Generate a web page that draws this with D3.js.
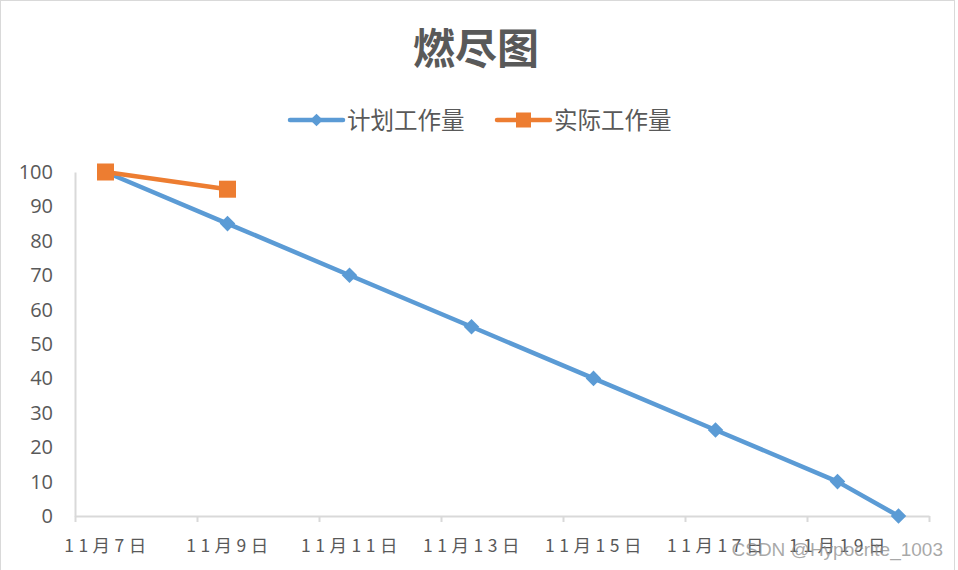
<!DOCTYPE html>
<html>
<head>
<meta charset="utf-8">
<script src="https://cdn.jsdelivr.net/npm/d3@7"></script>
<style>
  body { margin: 0; background: #fff; }
  svg { display: block; font-family: "Noto Sans CJK SC", sans-serif; }
</style>
</head>
<body>
<div id="chart"></div>
<script>
const planDates = ["2022-11-07", "2022-11-09", "2022-11-11", "2022-11-13", "2022-11-15", "2022-11-17", "2022-11-19", "2022-11-20"];
const planValues = [100, 85, 70, 55, 40, 25, 10, 0];
const actualDates = ["2022-11-07", "2022-11-09"];
const actualValues = [100, 95];
const tickDates = ["2022-11-07", "2022-11-09", "2022-11-11", "2022-11-13", "2022-11-15", "2022-11-17", "2022-11-19", "2022-11-21"];
const tickLabels = ["11月7日", "11月9日", "11月11日", "11月13日", "11月15日", "11月17日", "11月19日"];
const yTicks = [0, 10, 20, 30, 40, 50, 60, 70, 80, 90, 100];

const width = 958;
const height = 570;
const blue = "#5B9BD5";
const orange = "#ED7D31";
const textColor = "#595959";
const axisColor = "#D9D9D9";

const parse = d3.timeParse("%Y-%m-%d");
const halfDay = d => d3.timeHour.offset(d, 12);

const svg = d3.select("#chart")
  .append("svg")
  .attr("width", width)
  .attr("height", height);

// chart border
svg.append("rect")
  .attr("x", 0.5).attr("y", 0.5)
  .attr("width", width - 4).attr("height", height + 10)
  .attr("fill", "none")
  .attr("stroke", "#D9D9D9");

const x = d3.scaleTime()
  .domain([parse(tickDates[0]), parse(tickDates[tickDates.length - 1])])
  .range([75, 929]);

const y = d3.scaleLinear()
  .domain([0, 100])
  .range([516, 172]);

// title
svg.append("text")
  .attr("x", 476)
  .attr("y", 64)
  .attr("text-anchor", "middle")
  .attr("fill", textColor)
  .style("font-size", "42px")
  .style("font-weight", "bold")
  .text("燃尽图");

// y axis
const yAxis = svg.append("g")
  .attr("transform", "translate(75,0)")
  .call(d3.axisLeft(y).tickValues(yTicks).tickSize(0).tickPadding(22));
yAxis.select(".domain").attr("stroke", axisColor).attr("stroke-width", 2);
yAxis.selectAll("text")
  .attr("fill", textColor)
  .style("font-family", "'Open Sans', sans-serif")
  .style("font-size", "20px");

// x axis
const xAxis = svg.append("g")
  .attr("transform", "translate(0,516)")
  .call(d3.axisBottom(x).tickValues(tickDates.map(parse)).tickSize(6).tickSizeOuter(0).tickFormat(""));
xAxis.select(".domain").attr("stroke", axisColor).attr("stroke-width", 2);
xAxis.selectAll(".tick line").attr("stroke", axisColor).attr("stroke-width", 2);

svg.append("g")
  .selectAll("text")
  .data(tickLabels)
  .join("text")
  .attr("x", (d, i) => x(halfDay(parse(tickDates[i]))) + 2)
  .attr("y", 552)
  .attr("text-anchor", "middle")
  .attr("fill", textColor)
  .style("font-size", "17.5px")
  .style("letter-spacing", "4.5px")
  .text(d => d);

const plan = planDates.map((d, i) => ({ date: halfDay(parse(d)), value: planValues[i] }));
const actual = actualDates.map((d, i) => ({ date: halfDay(parse(d)), value: actualValues[i] }));

const line = d3.line()
  .x(d => x(d.date))
  .y(d => y(d.value));

svg.append("path")
  .datum(plan)
  .attr("fill", "none")
  .attr("stroke", blue)
  .attr("stroke-width", 4.5)
  .attr("stroke-linejoin", "round")
  .attr("d", line);

svg.append("g")
  .selectAll("path")
  .data(plan)
  .join("path")
  .attr("transform", d => `translate(${x(d.date)},${y(d.value)}) rotate(45)`)
  .attr("d", "M-5.5,-5.5h11v11h-11z")
  .attr("fill", blue);

svg.append("path")
  .datum(actual)
  .attr("fill", "none")
  .attr("stroke", orange)
  .attr("stroke-width", 4.5)
  .attr("d", line);

svg.append("g")
  .selectAll("rect")
  .data(actual)
  .join("rect")
  .attr("x", d => x(d.date) - 8.5)
  .attr("y", d => y(d.value) - 8.5)
  .attr("width", 17)
  .attr("height", 17)
  .attr("fill", orange);

// legend
const legendItems = [
  { name: "计划工作量", color: blue, x: 290, shape: "diamond" },
  { name: "实际工作量", color: orange, x: 497, shape: "square" }
];
const legend = svg.append("g").attr("transform", "translate(0,120)");
legendItems.forEach(item => {
  const row = legend.append("g").attr("transform", `translate(${item.x},0)`);
  row.append("line")
    .attr("x1", 0).attr("x2", 53)
    .attr("stroke", item.color)
    .attr("stroke-width", 4.5)
    .attr("stroke-linecap", "round");
  if (item.shape === "diamond") {
    row.append("path")
      .attr("transform", "translate(26.5,0) rotate(45)")
      .attr("d", "M-4.5,-4.5h9v9h-9z")
      .attr("fill", item.color);
  } else {
    row.append("rect")
      .attr("x", 19).attr("y", -7.5)
      .attr("width", 15).attr("height", 15)
      .attr("fill", item.color);
  }
  row.append("text")
    .attr("x", 57)
    .attr("y", 8.5)
    .attr("fill", textColor)
    .style("font-size", "23.5px")
    .text(item.name);
});

// watermark
svg.append("text")
  .attr("x", 943)
  .attr("y", 556)
  .attr("text-anchor", "end")
  .attr("fill", "rgba(140,140,140,0.75)")
  .style("font-family", "'Liberation Sans', sans-serif")
  .style("font-size", "19px")
  .text("CSDN @Hypocrite_1003");
</script>
</body>
</html>
